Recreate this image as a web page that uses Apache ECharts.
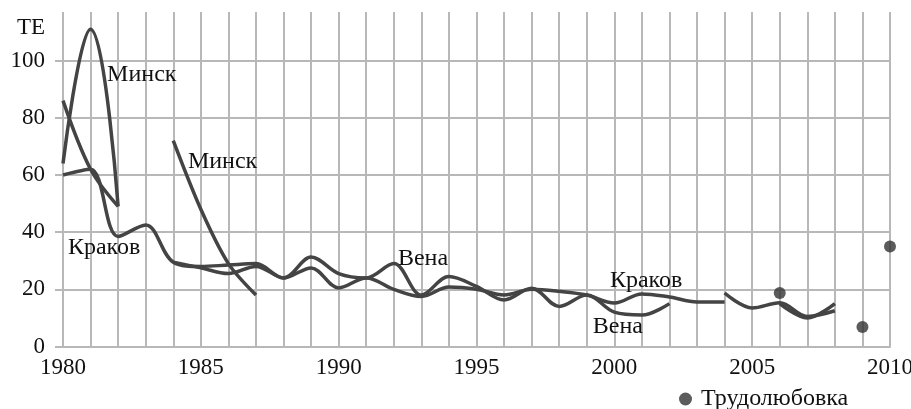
<!DOCTYPE html>
<html>
<head>
<meta charset="utf-8">
<script src="https://cdn.jsdelivr.net/npm/echarts@6/dist/echarts.min.js"></script>
<style>html,body{margin:0;padding:0;background:#fff}#c{width:911px;height:409px}</style>
</head>
<body>
<div id="c"></div>
<script>
// ---- data ----
const years = [1980,1981,1982,1983,1984,1985,1986,1987,1988,1989,1990,1991,1992,1993,1994,1995,1996,1997,1998,1999,2000,2001,2002,2003,2004,2005,2006,2007,2008,2009,2010];
const minsk1 = [64,111,49,null,null,null,null,null,null,null,null,null,null,null,null,null,null,null,null,null,null,null,null,null,null,null,null,null,null,null,null];
const minsk2 = [null,null,null,null,72,48,29,18,null,null,null,null,null,null,null,null,null,null,null,null,null,null,null,null,null,null,null,null,null,null,null];
const krakow = [60,62,38.5,42.5,29.5,28,28.5,29,24,27.5,20.5,24,20,17.5,20.8,20,18,20,19.3,18,15.2,18.4,17.3,15.6,15.6,null,15,10,15,null,null];
const vena   = [86,62,49,null,29.5,27.5,25.5,28,24,31.3,25.5,24,29,18,24.5,21,16.3,20.4,14,18,12,11,15,null,18.7,13.5,15.3,10.5,12.5,null,null];
const trudYears = [2006,2009,2010];
const trudValues = [18.7,6.8,35];
const yTicks = [0,20,40,60,80,100];
const xTicks = [1980,1985,1990,1995,2000,2005,2010];

const pairs = arr => years.map((y,i)=>[y, arr[i]]);
const font = 'Liberation Serif';
const lineColor = '#444';
const gridColor = '#b8b8b8';

const chart = echarts.init(document.getElementById('c'));
const lbl = (x, y, text) => ({
  coord: [x, y], symbolSize: 0,
  label: {show: true, position: 'right', distance: 0, formatter: text,
          color: '#111', fontFamily: font, fontSize: 24}
});
const lineSeries = (name, arr, marks, sm) => ({
  type: 'line', name, data: pairs(arr), smooth: sm, connectNulls: false,
  showSymbol: false, symbol: 'none',
  lineStyle: {color: lineColor, width: 3.5},
  itemStyle: {color: lineColor},
  silent: true, animation: false,
  markPoint: {symbol: 'circle', symbolSize: 0, data: marks, animation: false, silent: true}
});

chart.setOption({
  animation: false,
  grid: {left: 63, right: 21, top: 12, bottom: 62.5, outerBoundsMode: 'none', containLabel: false},
  xAxis: {
    type: 'value', min: 1980, max: 2010, interval: 1,
    axisLine: {show: true, lineStyle: {color: gridColor, width: 2}},
    axisTick: {show: false},
    axisLabel: {customValues: xTicks, formatter: v => String(v), margin: 10, color: '#111', fontFamily: font, fontSize: 23},
    splitLine: {show: true, lineStyle: {color: gridColor, width: 2}}
  },
  yAxis: {
    type: 'value', min: 0, max: 117,
    axisLine: {show: false},
    axisTick: {show: true, customValues: yTicks, length: 8, lineStyle: {color: gridColor, width: 2}},
    axisLabel: {customValues: yTicks, formatter: v => String(v), margin: 18, color: '#111', fontFamily: font, fontSize: 23},
    splitLine: {show: true, lineStyle: {color: gridColor, width: 2}}
  },
  graphic: [{type: 'text', right: 866, top: 16,
    style: {text: 'ТЕ', fill: '#111', font: '23px "Liberation Serif"', textAlign: 'right'}}],
  legend: {
    data: ['Трудолюбовка'], left: 674, top: 382, icon: 'circle', itemWidth: 13, itemHeight: 13, itemGap: 6,
    textStyle: {color: '#111', fontFamily: font, fontSize: 24, padding: [0, 0, 0, 4]}
  },
  series: [
    lineSeries('Минск', minsk1, [lbl(1981.6, 95, 'Минск')], 0.45),
    lineSeries('Минск2', minsk2, [lbl(1984.53, 64.5, 'Минск')], 0.3),
    lineSeries('Краков', krakow, [lbl(1980.18, 34.4, 'Краков'), lbl(1999.84, 22.9, 'Краков')], 0.35),
    lineSeries('Вена', vena, [lbl(1992.15, 30.6, 'Вена'), lbl(1999.22, 6.8, 'Вена')], 0.35),
    {type: 'scatter', name: 'Трудолюбовка', data: trudYears.map((y,i)=>[y, trudValues[i]]),
     symbol: 'circle', symbolSize: 12, itemStyle: {color: '#333'}, silent: true}
  ]
});
</script>
</body>
</html>
